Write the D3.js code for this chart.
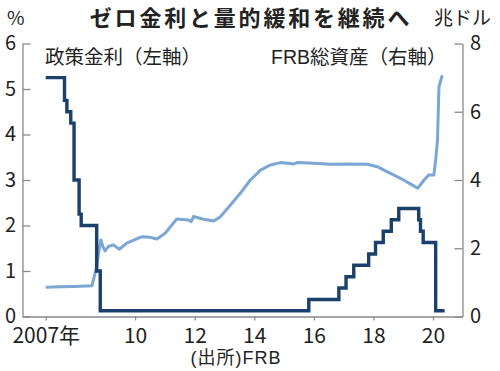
<!DOCTYPE html>
<html>
<head>
<meta charset="utf-8">
<script src="https://cdn.jsdelivr.net/npm/d3@7"></script>
<style>
  html, body { margin: 0; padding: 0; background: #fff; }
  svg { display: block; }
  .num { font-family: "Liberation Sans Narrow", "Noto Sans CJK JP", sans-serif; fill: #222; }
  .jp { font-family: "Liberation Sans", "Noto Sans CJK JP", sans-serif; fill: #222; }
</style>
</head>
<body>
<div id="container"></div>
<script>
// 政策金利 (step line, left axis, %)
const rateYears = [2007.0, 2007.63, 2007.71, 2007.84, 2007.95, 2008.12, 2008.19, 2008.71, 2008.83,
  2015.83, 2016.84, 2017.08, 2017.34, 2017.84, 2018.07, 2018.33, 2018.6, 2018.85,
  2019.52, 2019.58, 2019.67, 2020.09, 2020.39];
const rateValues = [5.25, 4.75, 4.5, 4.25, 3.0, 2.25, 2.0, 1.0, 0.125,
  0.375, 0.625, 0.875, 1.125, 1.375, 1.625, 1.875, 2.125, 2.375,
  2.125, 1.875, 1.625, 0.125, 0.125];

// FRB総資産 (right axis, 兆ドル)
const assetYears = [2007.0, 2007.48, 2007.98, 2008.55, 2008.71, 2008.78, 2008.85, 2008.92, 2008.99,
  2009.1, 2009.27, 2009.47, 2009.72, 2010.23, 2010.51, 2010.73, 2011.01, 2011.4, 2011.79,
  2011.88, 2011.96, 2012.3, 2012.64, 2012.86, 2013.2, 2013.53, 2013.87, 2014.21, 2014.54,
  2014.88, 2015.33, 2015.44, 2016.0, 2016.56, 2017.12, 2017.79, 2018.13, 2018.47, 2018.91,
  2019.31, 2019.49, 2019.7, 2019.86, 2020.03, 2020.09, 2020.15, 2020.2, 2020.31];
const assetValues = [0.86, 0.87, 0.88, 0.9, 1.46, 1.9, 2.24, 2.05, 1.92,
  2.05, 2.1, 1.97, 2.15, 2.34, 2.32, 2.27, 2.44, 2.86, 2.83,
  2.78, 2.93, 2.85, 2.8, 2.92, 3.27, 3.61, 4.0, 4.29, 4.44,
  4.51, 4.47, 4.51, 4.49, 4.46, 4.47, 4.46, 4.39, 4.24, 4.05,
  3.85, 3.76, 4.0, 4.15, 4.15, 4.59, 5.17, 6.73, 7.07];

const xTicks = [2007, 2010, 2012, 2014, 2016, 2018, 2020];
const leftTicks = [0, 1, 2, 3, 4, 5, 6];
const rightTicks = [0, 2, 4, 6, 8];

const width = 500;
const height = 371;
const plotLeft = 22.5, plotRight = 462.5, plotTop = 43.5, plotBottom = 316.5;

const x = d3.scaleLinear().domain([2006.22, 2020.99]).range([plotLeft, plotRight]);
const yL = d3.scaleLinear().domain([0, 6]).range([plotBottom, plotTop]);
const yR = d3.scaleLinear().domain([0, 8]).range([plotBottom, plotTop]);

const svg = d3.create("svg")
  .attr("width", width)
  .attr("height", height)
  .attr("viewBox", [0, 0, width, height]);

const axisColor = "#8a8a8a";

// bottom axis
const gx = svg.append("g")
  .attr("transform", `translate(0,${plotBottom})`)
  .call(d3.axisBottom(x)
    .tickValues(xTicks)
    .tickSizeInner(4)
    .tickSizeOuter(0)
    .tickPadding(6)
    .tickFormat((d) => d === 2007 ? "2007年" : String(d).slice(2)));

// left axis
const gl = svg.append("g")
  .attr("transform", `translate(${plotLeft},0)`)
  .call(d3.axisLeft(yL)
    .tickValues(leftTicks)
    .tickSizeInner(-8)
    .tickSizeOuter(0)
    .tickPadding(6.5)
    .tickFormat(d3.format("d")));

// right axis
const gr = svg.append("g")
  .attr("transform", `translate(${plotRight},0)`)
  .call(d3.axisRight(yR)
    .tickValues(rightTicks)
    .tickSizeInner(-8)
    .tickSizeOuter(0)
    .tickPadding(7.5)
    .tickFormat(d3.format("d")));

[gx, gl, gr].forEach((g) => {
  g.select(".domain").attr("stroke", axisColor).attr("stroke-width", 1.3);
  g.selectAll(".tick line").attr("stroke", axisColor).attr("stroke-width", 1.3);
  g.selectAll(".tick text")
    .attr("class", "num")
    .attr("fill", "#222");
});
gx.selectAll(".tick text").attr("font-size", 21).attr("dy", "0.8em");
gl.selectAll(".tick text").attr("font-size", 20);
gr.selectAll(".tick text").attr("font-size", 20);

// FRB総資産
const assetLine = d3.line()
  .x((d) => x(d[0]))
  .y((d) => yR(d[1]));

svg.append("path")
  .datum(d3.zip(assetYears, assetValues))
  .attr("fill", "none")
  .attr("stroke", "#7ca6d3")
  .attr("stroke-width", 3)
  .attr("stroke-linejoin", "round")
  .attr("d", assetLine);

// 政策金利
const rateLine = d3.line()
  .curve(d3.curveStepAfter)
  .x((d) => x(d[0]))
  .y((d) => yL(d[1]));

svg.append("path")
  .datum(d3.zip(rateYears, rateValues))
  .attr("fill", "none")
  .attr("stroke", "#1a406b")
  .attr("stroke-width", 3.4)
  .attr("stroke-linejoin", "miter")
  .attr("d", rateLine);

// texts
svg.append("text")
  .attr("class", "jp")
  .attr("x", 251)
  .attr("y", 26)
  .attr("text-anchor", "middle")
  .attr("font-size", 22)
  .attr("font-weight", "bold")
  .attr("letter-spacing", 2.8)
  .text("ゼロ金利と量的緩和を継続へ");

svg.append("text")
  .attr("class", "num")
  .attr("x", 7)
  .attr("y", 25)
  .attr("font-size", 19)
  .text("%");

svg.append("text")
  .attr("class", "jp")
  .attr("x", 491)
  .attr("y", 25)
  .attr("text-anchor", "end")
  .attr("font-size", 19)
  .text("兆ドル");

svg.append("text")
  .attr("class", "jp")
  .attr("x", 45)
  .attr("y", 64)
  .attr("font-size", 19.5)
  .text("政策金利（左軸）");

svg.append("text")
  .attr("class", "jp")
  .attr("x", 271)
  .attr("y", 64)
  .attr("font-size", 19.5)
  .text("FRB総資産（右軸）");

svg.append("text")
  .attr("class", "jp")
  .attr("x", 236)
  .attr("y", 364)
  .attr("text-anchor", "middle")
  .attr("font-size", 18)
  .attr("letter-spacing", 1)
  .text("(出所)FRB");

container.append(svg.node());
</script>
</body>
</html>
